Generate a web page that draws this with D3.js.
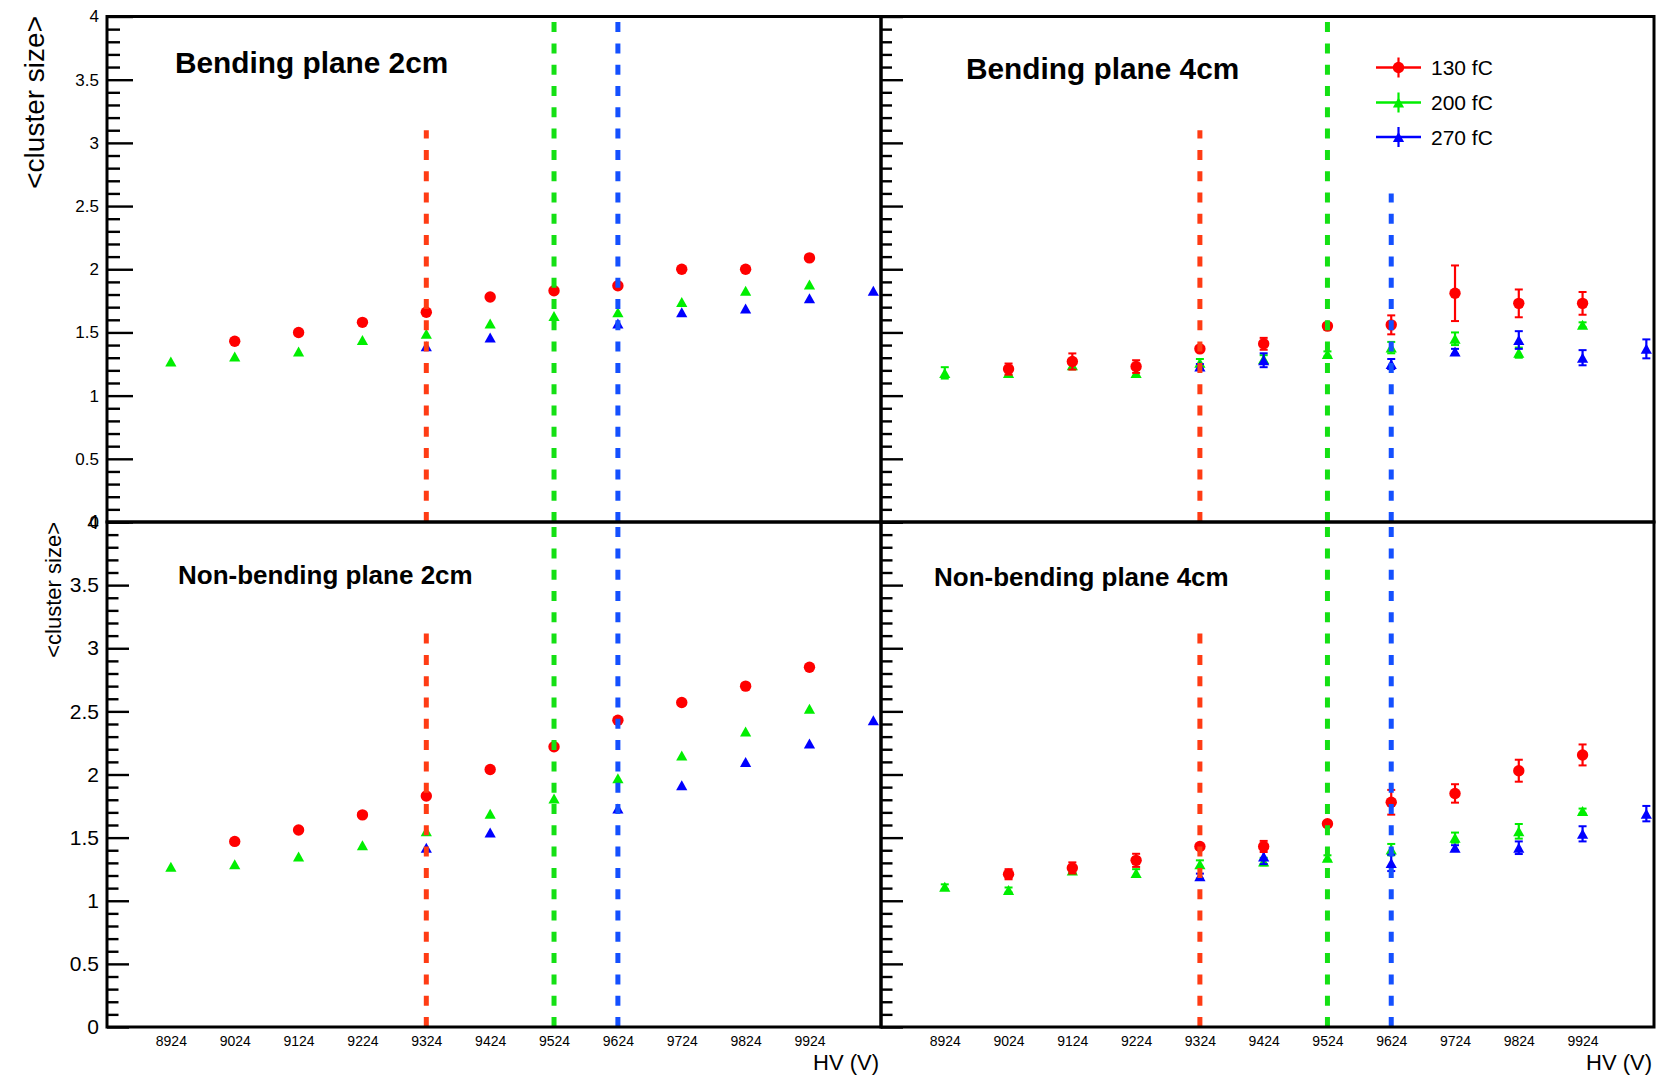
<!DOCTYPE html>
<html>
<head>
<meta charset="utf-8">
<script src="https://cdn.jsdelivr.net/npm/d3@7"></script>
<style>
  body { margin: 0; background: #fff; }
  svg { display: block; }
  text { font-family: "Liberation Sans", Arial, Helvetica, sans-serif; fill: #000; }
</style>
</head>
<body>
<svg id="chart" width="1675" height="1077"></svg>
<script>
// HV scan points (V) and the bin labels shown under each panel
const hv = [8924, 9024, 9124, 9224, 9324, 9424, 9524, 9624, 9724, 9824, 9924, 10024];
const hvTickLabels = ["8924", "9024", "9124", "9224", "9324", "9424", "9524", "9624", "9724", "9824", "9924"];

// Mean cluster size, bending plane 2cm
const bend2_130 = [null, 1.43, 1.50, 1.58, 1.66, 1.78, 1.83, 1.87, 2.00, 2.00, 2.09, null];
const bend2_200 = [1.27, 1.31, 1.35, 1.44, 1.49, 1.57, 1.63, 1.66, 1.74, 1.83, 1.88, null];
const bend2_270 = [null, null, null, null, 1.39, 1.46, null, 1.57, 1.66, 1.69, 1.77, 1.83];

// Mean cluster size, bending plane 4cm (with errors)
const bend4_130 = [null, 1.21, 1.27, 1.23, 1.37, 1.41, 1.55, 1.56, 1.81, 1.73, 1.73, null];
const bend4_130_err = [null, 0.044, 0.064, 0.05, 0.02, 0.047, 0.02, 0.075, 0.22, 0.11, 0.09, null];
const bend4_200 = [1.18, 1.18, 1.24, 1.18, 1.26, 1.29, 1.33, 1.38, 1.45, 1.34, 1.56, null];
const bend4_200_err = [0.045, 0.03, 0.03, 0.03, 0.03, 0.03, 0.02, 0.045, 0.05, 0.04, 0.02, null];
const bend4_270 = [null, null, null, null, 1.23, 1.28, null, 1.25, 1.35, 1.44, 1.30, 1.37];
const bend4_270_err = [null, null, null, null, 0.02, 0.055, null, 0.04, 0.02, 0.07, 0.06, 0.075];

// Mean cluster size, non-bending plane 2cm
const nbend2_130 = [null, 1.47, 1.56, 1.68, 1.83, 2.04, 2.22, 2.43, 2.57, 2.70, 2.85, null];
const nbend2_200 = [1.27, 1.29, 1.35, 1.44, 1.55, 1.69, 1.81, 1.97, 2.15, 2.34, 2.52, null];
const nbend2_270 = [null, null, null, null, 1.42, 1.54, null, 1.73, 1.915, 2.10, 2.245, 2.43];

// Mean cluster size, non-bending plane 4cm (with errors)
const nbend4_130 = [null, 1.21, 1.26, 1.32, 1.43, 1.43, 1.61, 1.78, 1.85, 2.03, 2.155, null];
const nbend4_130_err = [null, 0.04, 0.044, 0.052, 0.02, 0.044, 0.02, 0.098, 0.073, 0.087, 0.083, null];
const nbend4_200 = [1.11, 1.085, 1.24, 1.22, 1.29, 1.31, 1.34, 1.405, 1.50, 1.55, 1.71, null];
const nbend4_200_err = [0.02, 0.02, 0.02, 0.03, 0.03, 0.03, 0.02, 0.045, 0.04, 0.058, 0.02, null];
const nbend4_270 = [null, null, null, null, 1.195, 1.35, null, 1.30, 1.42, 1.42, 1.53, 1.69];
const nbend4_270_err = [null, null, null, null, 0.02, 0.06, null, 0.065, 0.02, 0.05, 0.06, 0.061];

// Working points (V) per threshold, and the height each marker line reaches in every panel
const thresholds = ["130 fC", "200 fC", "270 fC"];
const workingPoints = [9324, 9524, 9624];
const wpLineTop130 = [3.1, 3.1, 3.12, 3.12];
const wpLineTop200 = [4, 4, 4, 4];
const wpLineTop270 = [4, 2.6, 4, 4];

const panelTitles = ["Bending plane 2cm", "Bending plane 4cm", "Non-bending plane 2cm", "Non-bending plane 4cm"];
const yTickValues = [0, 0.5, 1, 1.5, 2, 2.5, 3, 3.5, 4];

// ---------- layout ----------
const svg = d3.select("#chart");
svg.append("rect").attr("width", 1675).attr("height", 1077).attr("fill", "#fff");

const markerColors = ["#ff0000", "#00ee00", "#0000ff"];
const wpColors = ["#ff3c14", "#14e014", "#1450ff"];

const cols = [[107, 881], [881, 1654]];
const rows = [[16.5, 522], [522, 1027]];

const triUp = {
  draw(ctx, size) {
    const s = Math.sqrt(size);
    ctx.moveTo(0, -s / 2);
    ctx.lineTo(s * 0.56, s / 2);
    ctx.lineTo(-s * 0.56, s / 2);
    ctx.closePath();
  }
};

const panels = [
  { title: panelTitles[0], col: 0, row: 0, tx: 175, ty: 73, tsize: 29.8, lsize: 17, major: 26, minor: 13, labels: true,
    series: [{ v: bend2_200, e: null, k: 1 }, { v: bend2_270, e: null, k: 2 }, { v: bend2_130, e: null, k: 0 }] },
  { title: panelTitles[1], col: 1, row: 0, tx: 966, ty: 78.6, tsize: 29.8, lsize: 17, major: 22, minor: 11, labels: false,
    series: [{ v: bend4_200, e: bend4_200_err, k: 1 }, { v: bend4_270, e: bend4_270_err, k: 2 }, { v: bend4_130, e: bend4_130_err, k: 0 }] },
  { title: panelTitles[2], col: 0, row: 1, tx: 178, ty: 584, tsize: 26, lsize: 21, major: 22, minor: 11.5, labels: true,
    series: [{ v: nbend2_200, e: null, k: 1 }, { v: nbend2_270, e: null, k: 2 }, { v: nbend2_130, e: null, k: 0 }] },
  { title: panelTitles[3], col: 1, row: 1, tx: 934, ty: 586, tsize: 26, lsize: 21, major: 22, minor: 11.5, labels: false,
    series: [{ v: nbend4_200, e: nbend4_200_err, k: 1 }, { v: nbend4_270, e: nbend4_270_err, k: 2 }, { v: nbend4_130, e: nbend4_130_err, k: 0 }] }
];

const wpTops = [wpLineTop130, wpLineTop200, wpLineTop270];

panels.forEach((p, pi) => {
  const [x0, x1] = cols[p.col];
  const [yT, yB] = rows[p.row];
  const x = d3.scaleLinear().domain([8824, 10036]).range([x0, x1]);
  const y = d3.scaleLinear().domain([0, 4]).range([yB, yT]);
  const g = svg.append("g");

  // y axis: minor then major ticks pointing into the frame
  const minorVals = d3.range(0, 41).map(i => i / 10).filter(v => Math.abs(v * 2 - Math.round(v * 2)) > 1e-6);
  const minorAx = g.append("g").attr("transform", `translate(${x0},0)`)
    .call(d3.axisLeft(y).tickValues(minorVals).tickSize(-p.minor).tickFormat(""));
  minorAx.select(".domain").remove();
  minorAx.selectAll("line").attr("stroke", "#000").attr("stroke-width", 2.4);

  const majorAx = g.append("g").attr("transform", `translate(${x0},0)`)
    .call(d3.axisLeft(y).tickValues(yTickValues).tickSize(-p.major).tickPadding(8)
      .tickFormat(p.labels ? d3.format("") : ""));
  majorAx.select(".domain").remove();
  majorAx.selectAll("line").attr("stroke", "#000").attr("stroke-width", 2.4);
  majorAx.selectAll("text").attr("font-size", p.lsize).attr("fill", "#000")
    .style("font-family", "'Liberation Sans', Arial, sans-serif");

  // x labels under bottom panels
  if (p.row === 1) {
    const xAx = g.append("g").attr("transform", `translate(0,${yB})`)
      .call(d3.axisBottom(x).tickValues(hvTickLabels.map(Number)).tickSize(0).tickPadding(9).tickFormat(d3.format("")));
    xAx.select(".domain").remove();
    xAx.selectAll("text").attr("font-size", 14).attr("fill", "#000")
      .style("font-family", "'Liberation Sans', Arial, sans-serif");
    g.append("text").attr("x", x1 - 2).attr("y", 1070).attr("text-anchor", "end")
      .attr("font-size", 22).text("HV (V)");
  }

  // data points
  p.series.forEach(s => {
    const pts = hv.map((h, i) => ({ h, v: s.v[i], e: s.e ? s.e[i] : null })).filter(d => d.v != null);
    const col = markerColors[s.k];
    // error bars
    pts.filter(d => d.e != null).forEach(d => {
      const ya = y(d.v - d.e), yb = y(d.v + d.e), xx = x(d.h);
      g.append("line").attr("x1", xx).attr("x2", xx).attr("y1", ya).attr("y2", yb)
        .attr("stroke", col).attr("stroke-width", 2.2);
      [ya, yb].forEach(yy => g.append("line").attr("x1", xx - 4).attr("x2", xx + 4)
        .attr("y1", yy).attr("y2", yy).attr("stroke", col).attr("stroke-width", 2));
    });
    if (s.k === 0) {
      g.selectAll(null).data(pts).enter().append("circle")
        .attr("cx", d => x(d.h)).attr("cy", d => y(d.v)).attr("r", 5.7).attr("fill", col);
    } else {
      g.selectAll(null).data(pts).enter().append("path")
        .attr("d", d3.symbol().type(triUp).size(100))
        .attr("transform", d => `translate(${x(d.h)},${y(d.v)})`).attr("fill", col);
    }
  });

  // working-point markers
  workingPoints.forEach((wp, k) => {
    g.append("line").attr("x1", x(wp)).attr("x2", x(wp))
      .attr("y1", y(0)).attr("y2", y(wpTops[k][pi]))
      .attr("stroke", wpColors[k]).attr("stroke-width", 5).attr("stroke-dasharray", "10 11.3");
  });

  // panel title
  g.append("text").attr("x", p.tx).attr("y", p.ty).attr("font-size", p.tsize)
    .attr("font-weight", "bold").text(p.title);

  // frame
  g.append("rect").attr("x", x0).attr("y", yT).attr("width", x1 - x0).attr("height", yB - yT)
    .attr("fill", "none").attr("stroke", "#000").attr("stroke-width", 3);
});

// y-axis titles
svg.append("text").attr("transform", "translate(44,16) rotate(-90)").attr("text-anchor", "end")
  .attr("font-size", 28).text("<cluster size>");
svg.append("text").attr("transform", "translate(61,522) rotate(-90)").attr("text-anchor", "end")
  .attr("font-size", 22).text("<cluster size>");

// legend
const legY = [67.5, 102.5, 137];
const leg = svg.append("g");
thresholds.forEach((t, k) => {
  const cy = legY[k], cx = 1398.5, col = markerColors[k];
  leg.append("line").attr("x1", 1376).attr("x2", 1421).attr("y1", cy).attr("y2", cy)
    .attr("stroke", col).attr("stroke-width", 2.5);
  leg.append("line").attr("x1", cx).attr("x2", cx).attr("y1", cy - 10).attr("y2", cy + 10)
    .attr("stroke", col).attr("stroke-width", 2.2);
  if (k === 0) leg.append("circle").attr("cx", cx).attr("cy", cy).attr("r", 5.7).attr("fill", col);
  else leg.append("path").attr("d", d3.symbol().type(triUp).size(100)())
    .attr("transform", `translate(${cx},${cy})`).attr("fill", col);
  leg.append("text").attr("x", 1431).attr("y", cy).attr("dy", "0.36em").attr("font-size", 21).text(t);
});
</script>
</body>
</html>
